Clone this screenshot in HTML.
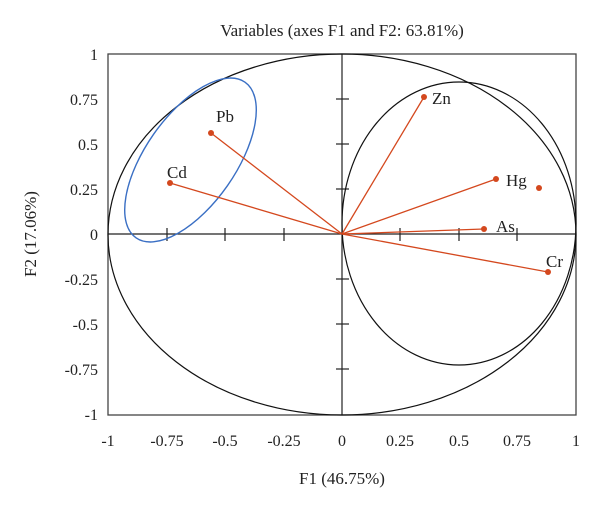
<!DOCTYPE html>
<html><head><meta charset="utf-8"><style>body{margin:0;background:#fff}svg{display:block}text{font-family:"Liberation Serif",serif;fill:#222}</style></head><body>
<svg width="600" height="507" viewBox="0 0 600 507">
<text x="342" y="36" font-size="17" text-anchor="middle">Variables (axes F1 and F2: 63.81%)</text>
<rect x="108" y="54" width="468" height="361" fill="none" stroke="#444" stroke-width="1.3"/>
<line x1="342" y1="54" x2="342" y2="415" stroke="#222" stroke-width="1.2"/>
<line x1="108" y1="234" x2="576" y2="234" stroke="#222" stroke-width="1.2"/>
<g stroke="#222" stroke-width="1.2">
<line x1="167" y1="228" x2="167" y2="241"/><line x1="225" y1="228" x2="225" y2="241"/><line x1="284" y1="228" x2="284" y2="241"/>
<line x1="400" y1="228" x2="400" y2="241"/><line x1="459" y1="228" x2="459" y2="241"/><line x1="517" y1="228" x2="517" y2="241"/>
<line x1="336" y1="99" x2="349" y2="99"/><line x1="336" y1="144" x2="349" y2="144"/><line x1="336" y1="189" x2="349" y2="189"/>
<line x1="336" y1="279" x2="349" y2="279"/><line x1="336" y1="324" x2="349" y2="324"/><line x1="336" y1="369" x2="349" y2="369"/>
</g>
<ellipse cx="342" cy="234.5" rx="234" ry="180.5" fill="none" stroke="#111" stroke-width="1.2"/>
<ellipse cx="459" cy="223.5" rx="117" ry="141.5" fill="none" stroke="#111" stroke-width="1.2"/>
<ellipse cx="190.5" cy="160" rx="95" ry="45" transform="rotate(-55 190.5 160)" fill="none" stroke="#3a6fc4" stroke-width="1.4"/>
<g stroke="#d4481e" stroke-width="1.3">
<line x1="342" y1="234" x2="211" y2="133"/><line x1="342" y1="234" x2="170" y2="183"/>
<line x1="342" y1="234" x2="424" y2="97"/><line x1="342" y1="234" x2="496" y2="179"/>
<line x1="342" y1="234" x2="484" y2="229"/><line x1="342" y1="234" x2="548" y2="272"/>
</g>
<g fill="#d4481e">
<circle cx="211" cy="133" r="3"/><circle cx="170" cy="183" r="3"/><circle cx="424" cy="97" r="3"/><circle cx="496" cy="179" r="3"/><circle cx="539" cy="188" r="3"/><circle cx="484" cy="229" r="3"/><circle cx="548" cy="272" r="3"/>
</g>
<g font-size="17">
<text x="216" y="122">Pb</text><text x="167" y="178">Cd</text><text x="432" y="104">Zn</text><text x="506" y="186">Hg</text><text x="496" y="232">As</text><text x="546" y="267">Cr</text>
</g>
<g font-size="16" text-anchor="end">
<text x="98" y="60">1</text><text x="98" y="105">0.75</text><text x="98" y="150">0.5</text><text x="98" y="195">0.25</text><text x="98" y="240">0</text>
<text x="98" y="285">-0.25</text><text x="98" y="330">-0.5</text><text x="98" y="375">-0.75</text><text x="98" y="420">-1</text>
</g>
<g font-size="16" text-anchor="middle">
<text x="108" y="446">-1</text><text x="167" y="446">-0.75</text><text x="225" y="446">-0.5</text><text x="284" y="446">-0.25</text><text x="342" y="446">0</text>
<text x="400" y="446">0.25</text><text x="459" y="446">0.5</text><text x="517" y="446">0.75</text><text x="576" y="446">1</text>
<text x="342" y="484" font-size="17">F1 (46.75%)</text>
<text transform="translate(36 234) rotate(-90)" font-size="17">F2 (17.06%)</text>
</g>
</svg>
</body></html>
